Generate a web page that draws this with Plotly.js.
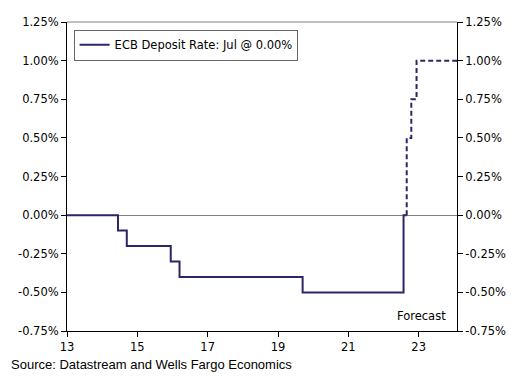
<!DOCTYPE html>
<html>
<head>
<meta charset="utf-8">
<script src="https://cdn.plot.ly/plotly-3.0.1.min.js"></script>
<style>html,body{margin:0;padding:0;background:#fff;}#chart{width:519px;height:381px;}</style>
</head>
<body>
<div id="chart"></div>
<script>
// Actual ECB deposit rate (decimal years, e.g. 14.45 = mid 2014)
var actualDates = [13, 14.45, 14.70, 15.95, 16.20, 19.70, 22.57, 22.66];
var actualRates = [0.00, -0.10, -0.20, -0.30, -0.40, -0.50, 0.00, 0.00];
// Forecast path
var forecastDates = [22.66, 22.66, 22.79, 22.94, 24.09];
var forecastRates = [0.00, 0.50, 0.75, 1.00, 1.00];
var xTicks = [13, 15, 17, 19, 21, 23];
var yTicks = [1.25, 1.00, 0.75, 0.50, 0.25, 0.00, -0.25, -0.50, -0.75];
var legendName = "ECB Deposit Rate: Jul @ 0.00%";

var lineColor = '#2a2766';
var fontFam = 'DejaVu Sans, Verdana, sans-serif';
var fs = 11.5;

var traces = [
  {x: actualDates, y: actualRates, type: 'scatter', mode: 'lines', line: {shape: 'hv', color: lineColor, width: 2}, name: legendName, showlegend: true},
  {x: forecastDates, y: forecastRates, type: 'scatter', mode: 'lines', line: {shape: 'hv', color: lineColor, width: 2, dash: '5px,3px'}, showlegend: false, yaxis: 'y2'}
];

var yRange = [-0.75, 1.25];
var yCommon = {
  range: yRange, tickvals: yTicks,
  ticktext: yTicks.map(function(v){return v.toFixed(2) + '%';}),
  ticks: 'outside', ticklen: 5, tickcolor: '#000', showgrid: false,
  showline: true, linecolor: '#000', linewidth: 1,
  tickfont: {family: fontFam, size: fs, color: '#000'}, fixedrange: true
};

var layout = {
  width: 519, height: 381,
  margin: {l: 67, r: 62, t: 22, b: 50},
  paper_bgcolor: '#fff', plot_bgcolor: '#fff',
  font: {family: fontFam, size: fs, color: '#000'},
  xaxis: {
    range: [13, 24.09], tickvals: xTicks, ticktext: xTicks.map(String),
    ticks: 'outside', ticklen: 5, tickcolor: '#000', showgrid: false, zeroline: false,
    showline: true, linecolor: '#000', linewidth: 1,
    tickfont: {family: fontFam, size: fs, color: '#000'}
  },
  yaxis: Object.assign({}, yCommon, {side: 'left', zeroline: true, zerolinecolor: '#808080', zerolinewidth: 1}),
  yaxis2: Object.assign({}, yCommon, {side: 'right', overlaying: 'y', zeroline: false}),
  showlegend: true,
  legend: {x: 0.018, y: 0.975, xanchor: 'left', yanchor: 'top', bordercolor: '#000', borderwidth: 0.6,
    bgcolor: '#fff', font: {family: fontFam, size: fs, color: '#000'}},
  shapes: [{type: 'line', xref: 'paper', yref: 'paper', x0: 0, x1: 1, y0: 1, y1: 1, line: {color: '#808080', width: 1}}],
  annotations: [
    {text: 'Forecast', xref: 'paper', yref: 'paper', x: 0.978, y: 0.02, xanchor: 'right', yanchor: 'bottom', showarrow: false,
     font: {family: fontFam, size: fs, color: '#000'}},
    {text: 'Source: Datastream and Wells Fargo Economics', xref: 'paper', yref: 'paper', x: -0.15, y: -0.078, xanchor: 'left', yanchor: 'top', showarrow: false,
     font: {family: 'Liberation Sans, Arial, sans-serif', size: 13, color: '#000'}}
  ]
};

Plotly.newPlot('chart', traces, layout, {displayModeBar: false, staticPlot: true});
</script>
</body>
</html>
